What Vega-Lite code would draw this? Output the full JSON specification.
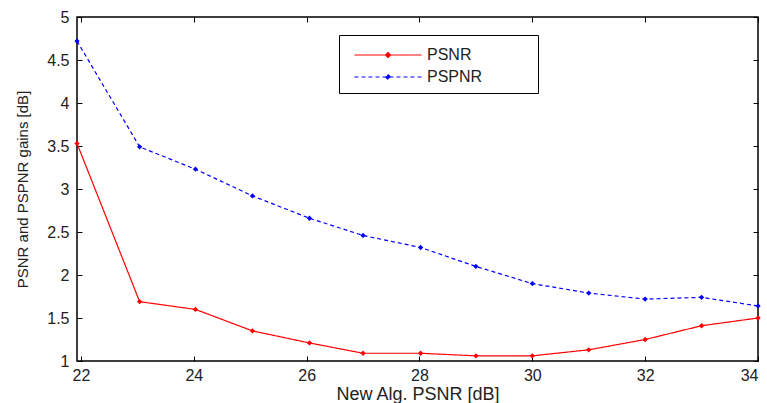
{
  "$schema": "https://vega.github.io/schema/vega-lite/v6.json",
  "width": 681,
  "height": 344,
  "autosize": {"type": "none"},
  "padding": {"left": 77, "top": 17, "right": 9, "bottom": 42},
  "background": "white",
  "config": {
    "view": {"stroke": "black", "strokeWidth": 1.5},
    "font": "Liberation Sans",
    "axis": {"labelFont": "Liberation Sans", "titleFont": "Liberation Sans", "labelColor": "#222", "titleColor": "#222", "domain": false, "grid": false, "tickColor": "black", "tickSize": -5, "labelFontSize": 16, "titleFontWeight": "normal"}
  },
  "data": {"values": [
    {"x": 21.93, "y": 3.53, "s": "PSNR"},
    {"x": 23.04, "y": 1.69, "s": "PSNR"},
    {"x": 24.03, "y": 1.60, "s": "PSNR"},
    {"x": 25.04, "y": 1.35, "s": "PSNR"},
    {"x": 26.05, "y": 1.21, "s": "PSNR"},
    {"x": 27.0, "y": 1.09, "s": "PSNR"},
    {"x": 28.02, "y": 1.09, "s": "PSNR"},
    {"x": 29.0, "y": 1.06, "s": "PSNR"},
    {"x": 30.0, "y": 1.06, "s": "PSNR"},
    {"x": 31.0, "y": 1.13, "s": "PSNR"},
    {"x": 32.0, "y": 1.25, "s": "PSNR"},
    {"x": 33.0, "y": 1.41, "s": "PSNR"},
    {"x": 34.0, "y": 1.50, "s": "PSNR"},
    {"x": 21.93, "y": 4.72, "s": "PSPNR"},
    {"x": 23.04, "y": 3.49, "s": "PSPNR"},
    {"x": 24.03, "y": 3.23, "s": "PSPNR"},
    {"x": 25.04, "y": 2.92, "s": "PSPNR"},
    {"x": 26.05, "y": 2.66, "s": "PSPNR"},
    {"x": 27.0, "y": 2.46, "s": "PSPNR"},
    {"x": 28.02, "y": 2.32, "s": "PSPNR"},
    {"x": 29.0, "y": 2.10, "s": "PSPNR"},
    {"x": 30.0, "y": 1.90, "s": "PSPNR"},
    {"x": 31.0, "y": 1.79, "s": "PSPNR"},
    {"x": 32.0, "y": 1.72, "s": "PSPNR"},
    {"x": 33.0, "y": 1.74, "s": "PSPNR"},
    {"x": 34.0, "y": 1.64, "s": "PSPNR"}
  ]},
  "layer": [
    {
      "mark": {"type": "line", "strokeWidth": 1.2, "point": {"filled": true, "shape": "diamond", "size": 28}},
      "encoding": {
        "x": {"field": "x", "type": "quantitative", "scale": {"domain": [21.93, 34], "nice": false, "zero": false}, "axis": {"values": [22, 24, 26, 28, 30, 32, 34], "title": "New Alg. PSNR [dB]", "titleFontSize": 18, "labelPadding": 11, "titlePadding": 2}},
        "y": {"field": "y", "type": "quantitative", "scale": {"domain": [1, 5], "nice": false, "zero": false}, "axis": {"values": [1, 1.5, 2, 2.5, 3, 3.5, 4, 4.5, 5], "format": ".1~f", "title": "PSNR and PSPNR gains [dB]", "titleFontSize": 15, "labelPadding": 13, "titlePadding": 16}},
        "color": {"field": "s", "type": "nominal", "scale": {"domain": ["PSNR", "PSPNR"], "range": ["#ff0000", "#0000ff"]}, "legend": {"title": null, "orient": "none", "legendX": 262, "legendY": 18, "direction": "vertical", "symbolType": "M-3,0H3M0,-0.22L0.22,0L0,0.22L-0.22,0Z", "symbolSize": 500, "symbolStrokeWidth": 1.2, "symbolOffset": 29, "labelFontSize": 16, "labelFont": "Liberation Sans", "labelColor": "#222", "labelOffset": 27, "labelLimit": 300, "labelExpr": "datum.label + '\u00a0\u00a0\u00a0\u00a0\u00a0\u00a0\u00a0\u00a0\u2800'", "strokeColor": "black", "fillColor": "white", "padding": 8, "rowPadding": 2, "zindex": 1, "encode": {"symbols": {"update": {"fill": {"scale": "color", "field": "value"}}}}}},
        "strokeDash": {"field": "s", "type": "nominal", "scale": {"domain": ["PSNR", "PSPNR"], "range": [[1, 0], [4, 3]]}, "legend": null}
      }
    },
    {
      "mark": {"type": "point", "opacity": 0},
      "encoding": {
        "x": {"field": "x", "type": "quantitative", "axis": {"orient": "top", "values": [22, 24, 26, 28, 30, 32, 34], "labels": false, "title": null}},
        "y": {"field": "y", "type": "quantitative", "axis": {"orient": "right", "values": [1, 1.5, 2, 2.5, 3, 3.5, 4, 4.5, 5], "labels": false, "title": null}}
      }
    }
  ],
  "resolve": {"axis": {"x": "independent", "y": "independent"}}
}
